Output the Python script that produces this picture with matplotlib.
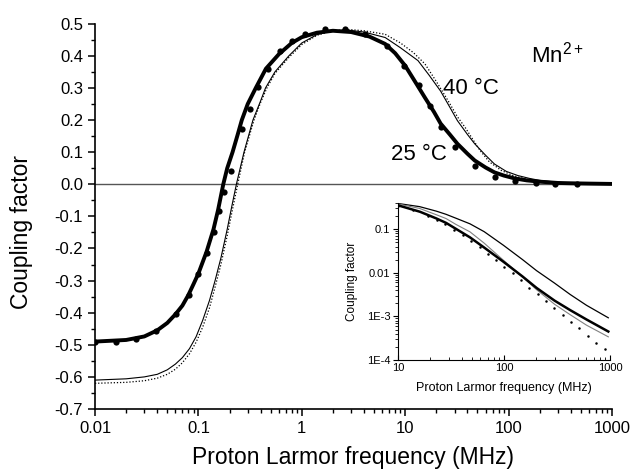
"""
Coupling factor vs proton Larmor frequency for Mn2+ (25 and 40 degC),
with a log-log inset of the high-field tail.
"""

import matplotlib
matplotlib.use("Agg")
import matplotlib.pyplot as plt
import matplotlib.ticker as mticker

plt.rcParams["font.family"] = ["Liberation Sans", "DejaVu Sans"]
plt.rcParams["mathtext.fontset"] = "custom"
plt.rcParams["mathtext.rm"] = "Liberation Sans"
plt.rcParams["axes.unicode_minus"] = False

# --- main panel data (MHz, coupling factor) ---
fit25_f = [0.01, 0.02, 0.03, 0.04, 0.05, 0.06, 0.07, 0.08, 0.09, 0.1, 0.12, 0.14,
           0.155, 0.174, 0.19, 0.214, 0.24, 0.263, 0.3, 0.359, 0.45, 0.6, 0.8, 1.0,
           1.4, 2.0, 3.0, 4.5, 6.4, 8.0, 10, 13, 15.5, 19, 22, 27, 32, 40, 47, 60,
           73, 90, 115, 150, 200, 300, 400, 600, 1000]
fit25_v = [-0.490, -0.485, -0.474, -0.455, -0.432, -0.405, -0.378, -0.345, -0.310,
           -0.278, -0.210, -0.140, -0.080, 0.0, 0.05, 0.10, 0.155, 0.20, 0.25, 0.30,
           0.36, 0.405, 0.44, 0.458, 0.472, 0.478, 0.474, 0.460, 0.437, 0.408, 0.369,
           0.31, 0.27, 0.225, 0.189, 0.155, 0.126, 0.095, 0.074, 0.052, 0.037, 0.027,
           0.018, 0.012, 0.008, 0.004, 0.003, 0.002, 0.001]

dots25_f = [0.01, 0.0159, 0.0248, 0.039, 0.061, 0.081, 0.1, 0.12, 0.14, 0.157, 0.178,
            0.206, 0.266, 0.314, 0.38, 0.474, 0.62, 0.8, 1.08, 1.69, 2.63, 4.1, 6.6,
            9.8, 13.5, 17.3, 22.3, 30, 46.8, 74, 115, 183, 282, 460]
dots25_v = [-0.49, -0.49, -0.483, -0.458, -0.405, -0.345, -0.28, -0.213, -0.15,
            -0.082, -0.025, 0.04, 0.172, 0.234, 0.302, 0.359, 0.415, 0.445, 0.467,
            0.483, 0.483, 0.467, 0.431, 0.369, 0.31, 0.245, 0.179, 0.115, 0.056,
            0.024, 0.009, 0.003, 0.001, 0.0]

fit40_f = [0.01, 0.02, 0.03, 0.04, 0.05, 0.06, 0.07, 0.082, 0.095, 0.11, 0.128, 0.145,
           0.165, 0.19, 0.21, 0.233, 0.276, 0.337, 0.4, 0.446, 0.55, 0.75, 1.0, 1.4,
           2.0, 2.8, 4.0, 6.4, 9.0, 13.3, 17, 22, 27, 32, 40, 47, 60, 73, 95, 123,
           160, 200, 300, 400, 600, 1000]
fit40_v = [-0.610, -0.606, -0.600, -0.592, -0.578, -0.560, -0.540, -0.512, -0.475,
           -0.424, -0.362, -0.30, -0.23, -0.14, -0.07, 0.0, 0.10, 0.20, 0.26, 0.30,
           0.35, 0.40, 0.44, 0.466, 0.478, 0.480, 0.474, 0.457, 0.425, 0.385, 0.34,
           0.29, 0.24, 0.198, 0.155, 0.126, 0.09, 0.063, 0.04, 0.027, 0.018, 0.012,
           0.006, 0.004, 0.002, 0.001]

alt40_f = [0.01, 0.02, 0.03, 0.04, 0.05, 0.06, 0.07, 0.082, 0.095, 0.11, 0.128, 0.145,
           0.165, 0.19, 0.21, 0.24, 0.28, 0.345, 0.4, 0.46, 0.55, 0.75, 1.0, 1.4, 2.0,
           2.8, 4.0, 6.4, 9.0, 12, 15.5, 20, 26, 32, 38, 45, 53, 65, 85, 110, 140,
           200, 300, 400, 600, 1000]
alt40_v = [-0.620, -0.617, -0.612, -0.604, -0.592, -0.576, -0.556, -0.528, -0.492,
           -0.445, -0.385, -0.32, -0.25, -0.16, -0.09, 0.0, 0.10, 0.20, 0.255, 0.30,
           0.345, 0.395, 0.435, 0.464, 0.478, 0.482, 0.478, 0.467, 0.44, 0.41, 0.375,
           0.32, 0.26, 0.21, 0.177, 0.14, 0.105, 0.07, 0.043, 0.027, 0.018, 0.010,
           0.005, 0.003, 0.002, 0.001]

x_ticks = [0.01, 0.1, 1, 10, 100, 1000]
x_labels = ["0.01", "0.1", "1", "10", "100", "1000"]

# --- inset data (log-log tail) ---
in_top_f = [10, 16, 23, 28.4, 35, 47.8, 65, 98.6, 150, 203, 300, 420, 600, 964]
in_top_v = [0.39, 0.33, 0.26, 0.22, 0.18, 0.133, 0.088, 0.043, 0.02, 0.0112,
            0.0058, 0.0032, 0.0018, 9.3e-4]
in_thick_f = [10, 16.1, 23, 28.4, 35, 47.8, 65, 98.6, 150, 203, 300, 420, 600, 964]
in_thick_v = [0.354, 0.252, 0.177, 0.14, 0.103, 0.065, 0.038, 0.018, 0.0082,
              0.0045, 0.0023, 0.0014, 8.5e-4, 4.5e-4]
in_gray_f = [10, 16, 23, 28.4, 35, 47.8, 65, 98.6, 150, 203, 300, 420, 600, 964]
in_gray_v = [0.38, 0.30, 0.215, 0.176, 0.13, 0.087, 0.048, 0.0195, 0.008, 0.0041,
             0.0019, 0.0011, 6.3e-4, 3.4e-4]
in_dots_f = [10, 14, 19, 23.5, 28, 34, 41, 49, 59, 70, 84, 101, 121, 145, 174, 208,
             249, 299, 358, 430, 515, 617, 740, 890]
in_dots_v = [0.345, 0.28, 0.2, 0.16, 0.135, 0.098, 0.073, 0.054, 0.039, 0.0277,
             0.0195, 0.0137, 0.0097, 0.0068, 0.0046, 0.0033, 0.00225, 0.00158,
             0.00108, 7.6e-4, 5.3e-4, 3.6e-4, 2.5e-4, 1.77e-4]
in_y_ticks = [1e-4, 1e-3, 1e-2, 1e-1]
in_y_labels = ["1E-4", "1E-3", "0.01", "0.1"]

fig = plt.figure(figsize=(6.3, 4.76), dpi=100)
ax = fig.add_axes([95 / 630, 1 - 409 / 476, 517 / 630, 385.3 / 476])

ax.axhline(0.0, color="#555555", lw=1.0, zorder=1)
ax.plot(fit40_f, fit40_v, color="black", lw=0.8)
ax.plot(alt40_f, alt40_v, color="black", lw=0.9, ls=(0, (1, 1.5)))
ax.plot(fit25_f, fit25_v, color="black", lw=2.8, solid_capstyle="round")
ax.plot(dots25_f, dots25_v, "o", color="black", ms=4.5, mec="none")

ax.set_xscale("log")
ax.set_xlim(0.01, 1000)
ax.set_ylim(-0.7, 0.5)
ax.set_xticks(x_ticks)
ax.xaxis.set_major_formatter(mticker.FixedFormatter(x_labels))
ax.xaxis.set_minor_locator(mticker.LogLocator(base=10, subs=range(2, 10), numticks=20))
ax.xaxis.set_minor_formatter(mticker.NullFormatter())
ax.yaxis.set_major_locator(mticker.MultipleLocator(0.1))
ax.yaxis.set_minor_locator(mticker.MultipleLocator(0.05))
ax.yaxis.set_major_formatter(mticker.FormatStrFormatter("%.1f"))
for side in ("top", "right"):
    ax.spines[side].set_visible(False)
for side in ("left", "bottom"):
    ax.spines[side].set_linewidth(1.2)
ax.tick_params(which="major", direction="out", length=5, width=1.1, labelsize=12)
ax.tick_params(which="minor", direction="out", length=3, width=1.0)
ax.set_xlabel("Proton Larmor frequency (MHz)", fontsize=16.5)
ax.set_ylabel("Coupling factor", fontsize=16.5)
ax.xaxis.set_label_coords(0.5, -0.095)
ax.yaxis.set_label_coords(-0.12, 0.46)

ax.text(23, 0.297, "40 °C", fontsize=16, ha="left", va="center")
ax.text(7.3, 0.092, "25 °C", fontsize=16, ha="left", va="center")
ax.text(163, 0.378, "Mn$^{2+}$", fontsize=16, ha="left", va="baseline")

# inset
ins = fig.add_axes([398 / 630, 1 - 360 / 476, 212 / 630, 157 / 476])
ins.patch.set_alpha(0)
ins.plot(in_top_f, in_top_v, color="black", lw=0.9)
ins.plot(in_gray_f, in_gray_v, color="#808080", lw=0.8)
ins.plot(in_thick_f, in_thick_v, color="black", lw=1.8)
ins.plot(in_dots_f, in_dots_v, "o", color="black", ms=1.8, mec="none")
ins.set_xscale("log")
ins.set_yscale("log")
ins.set_xlim(10, 1000)
ins.set_ylim(1e-4, 0.4)
ins.set_xticks([10, 100, 1000])
ins.xaxis.set_major_formatter(mticker.FixedFormatter(["10", "100", "1000"]))
ins.xaxis.set_minor_formatter(mticker.NullFormatter())
ins.set_yticks(in_y_ticks)
ins.yaxis.set_major_formatter(mticker.FixedFormatter(in_y_labels))
ins.yaxis.set_minor_locator(mticker.LogLocator(base=10, subs=range(2, 10), numticks=20))
ins.yaxis.set_minor_formatter(mticker.NullFormatter())
for side in ("top", "right"):
    ins.spines[side].set_visible(False)
ins.tick_params(which="major", length=3.5, width=0.8, labelsize=8, pad=2)
ins.tick_params(which="minor", length=2, width=0.6)
ins.tick_params(axis="x", which="both", direction="in")
ins.tick_params(axis="y", which="both", direction="out")
ins.set_xlabel("Proton Larmor frequency (MHz)", fontsize=9, labelpad=7)
ins.set_ylabel("Coupling factor", fontsize=8.5, labelpad=6)

fig.savefig("out.png", dpi=100)
